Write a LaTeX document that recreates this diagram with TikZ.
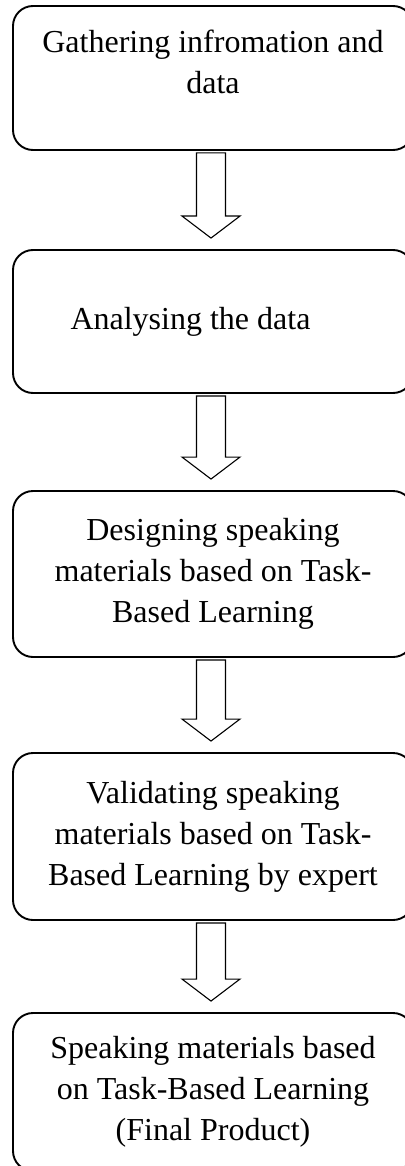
\documentclass[tikz,border=0pt]{standalone}
\usepackage{fontspec}
\setmainfont{Liberation Serif}
\usetikzlibrary{calc}
\tikzset{
  stagebox/.style={draw, line width=1.9pt, rounded corners=20pt, inner sep=0pt,
    minimum width=400pt, align=center, font=\fontsize{32}{41}\selectfont},
  hollowarrow/.style={draw, line width=1.1pt, fill=white}
}

\begin{document}
\begin{tikzpicture}[x=1pt,y=1pt]
\useasboundingbox (0,0) rectangle (404,-1166);
% the five stages
\node[stagebox, minimum height=144pt] (b1) at (213,-78) {Gathering infromation and\\data\\[-8pt]\mbox{}};
\node[stagebox, minimum height=143pt] (b2) at (213,-321.5) {\hspace*{-45pt}Analysing the data};
\node[stagebox, minimum height=166pt] (b3) at (213,-574) {Designing speaking\\materials based on Task-\\Based Learning};
\node[stagebox, minimum height=167pt] (b4) at (213,-836.5) {Validating speaking\\materials based on Task-\\Based Learning by expert};
\node[stagebox, minimum height=158pt] (b5) at (213,-1092) {Speaking materials based\\on Task-Based Learning\\(Final Product)};
% block arrows between stages
\foreach \a/\b in {b1/b2,b2/b3,b3/b4,b4/b5}
  \draw[hollowarrow] let \p1=($(\a.south)+(-2,-2)$), \p2=(\b.north) in
    (\x1-14.5pt,\y1) -- (\x1-14.5pt,\y2+33pt) -- (\x1-29pt,\y2+33pt) -- (\x1,\y2+11pt)
    -- (\x1+29pt,\y2+33pt) -- (\x1+14.5pt,\y2+33pt) -- (\x1+14.5pt,\y1) -- cycle;
\end{tikzpicture}
\end{document}
